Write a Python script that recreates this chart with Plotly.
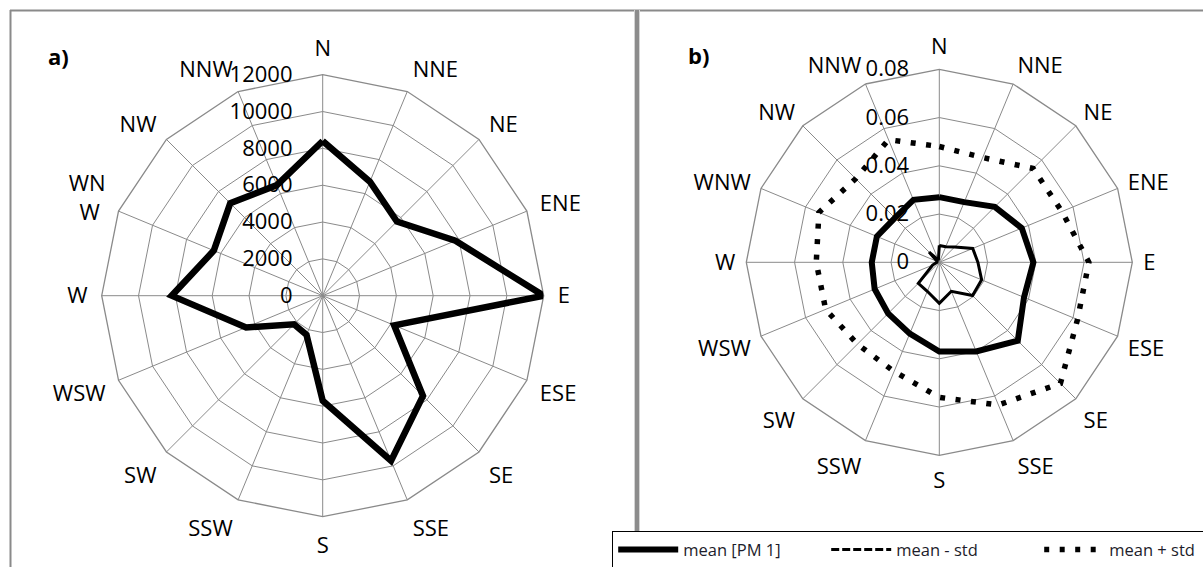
import plotly.graph_objects as go

# ---------------- data ----------------
directions = ["N", "NNE", "NE", "ENE", "E", "ESE", "SE", "SSE",
              "S", "SSW", "SW", "WSW", "W", "WNW", "NW", "NNW"]
labels_a = ["N", "NNE", "NE", "ENE", "E", "ESE", "SE", "SSE",
            "S", "SSW", "SW", "WSW", "W", "WN<br>W\u00a0", "NW", "NNW"]
labels_b = ["N", "NNE", "NE", "ENE", "E", "ESE", "SE", "SSE",
            "S", "SSW", "SW", "WSW", "W", "WNW", "NW", "NNW"]

counts_a = [8400, 6700, 5700, 7800, 12000, 4200, 7700, 9700,
            5700, 2300, 2200, 4500, 8200, 6400, 7100, 6500]

mean_pm1 = [0.027, 0.027, 0.0325, 0.037, 0.039, 0.038, 0.046, 0.040,
            0.037, 0.032, 0.030, 0.029, 0.028, 0.028, 0.026, 0.028]
mean_minus_std = [0.007, 0.007, 0.009, 0.015, 0.016, 0.019, 0.0195, 0.013,
                  0.017, 0.013, 0.0123, 0.003, 0.001, 0.001, 0.006, 0.001]
mean_plus_std = [0.048, 0.047, 0.055, 0.055, 0.062, 0.062, 0.071, 0.064,
                 0.056, 0.049, 0.048, 0.051, 0.051, 0.054, 0.049, 0.055]

ticks_a = [0, 2000, 4000, 6000, 8000, 10000, 12000]
ticks_b = [0, 0.02, 0.04, 0.06, 0.08]

legend_names = ["mean [PM 1]", "mean - std", "mean + std"]

# ---------------- styling ----------------
W, H = 1203, 567
GRID = "#8a8a8a"
FONT = "Open Sans"
TXT = dict(family=FONT, size=22, color="black")


def closed(v):
    return list(v) + list(v[:1])


theta = closed(directions)

fig = go.Figure()

fig.add_trace(go.Scatterpolar(r=closed(counts_a), theta=theta, mode="lines",
                              line=dict(color="black", width=6.5),
                              subplot="polar", showlegend=False))

fig.add_trace(go.Scatterpolar(r=closed(mean_pm1), theta=theta, mode="lines",
                              name=legend_names[0],
                              line=dict(color="black", width=6),
                              subplot="polar2", showlegend=True))
fig.add_trace(go.Scatterpolar(r=closed(mean_minus_std), theta=theta, mode="lines",
                              name=legend_names[1],
                              line=dict(color="black", width=3),
                              subplot="polar2", showlegend=False))
# legend entry for the dashed series
fig.add_trace(go.Scatterpolar(r=[None], theta=[directions[0]], mode="lines",
                              name=legend_names[1],
                              line=dict(color="black", width=3, dash="8px,3px"),
                              subplot="polar2", showlegend=True))
fig.add_trace(go.Scatterpolar(r=closed(mean_plus_std), theta=theta, mode="lines",
                              name=legend_names[2],
                              line=dict(color="black", width=5.5, dash="5px,10.5px"),
                              subplot="polar2", showlegend=True))


def polar(cx, cy, rad, rng, ticks, labels, pad, fmt):
    return dict(
        domain=dict(x=[(cx - rad) / W, (cx + rad) / W],
                    y=[(H - cy - rad) / H, (H - cy + rad) / H]),
        gridshape="linear",
        bgcolor="white",
        angularaxis=dict(type="category", categoryorder="array",
                         categoryarray=directions, direction="clockwise",
                         rotation=90, tickmode="array", tickvals=directions,
                         ticktext=labels, showline=True, linecolor=GRID,
                         linewidth=1.3, gridcolor=GRID, gridwidth=1.3,
                         ticks="outside", ticklen=pad,
                         tickcolor="rgba(0,0,0,0)",
                         tickfont=TXT, layer="below traces"),
        radialaxis=dict(range=rng, tickmode="array", tickvals=ticks,
                        angle=90, side="counterclockwise", tickangle=90,
                        showline=False, gridcolor=GRID, gridwidth=1.3,
                        ticks="outside", ticklen=22, tickcolor="rgba(0,0,0,0)",
                        tickfont=TXT, layer="below traces", tickformat=fmt,
                        exponentformat="none", separatethousands=False),
    )


fig.update_layout(
    width=W, height=H,
    margin=dict(l=0, r=0, t=0, b=0, autoexpand=False),
    paper_bgcolor="white", plot_bgcolor="white",
    polar=polar(322.7, 295.7, 221, [0, 12000], ticks_a, labels_a, 9, "d"),
    polar2=polar(939.3, 262.3, 193, [0, 0.08], ticks_b, labels_b, 6, ""),
    showlegend=True,
    legend=dict(orientation="h", x=611.7 / W, y=(H - 530.7) / H,
                xanchor="left", yanchor="top",
                bgcolor="white", bordercolor="black", borderwidth=1.5,
                font=dict(family=FONT, size=16.5, color="#1d1d2b"),
                itemwidth=60, entrywidth=138, entrywidthmode="pixels"),
)

# panel letters
fig.add_annotation(x=58 / W, y=1 - 56 / H, xref="paper", yref="paper",
                   xanchor="center", yanchor="middle",
                   text="<b>a)</b>", showarrow=False,
                   font=dict(family=FONT, size=22, color="black"))
fig.add_annotation(x=698 / W, y=1 - 55 / H, xref="paper", yref="paper",
                   xanchor="center", yanchor="middle",
                   text="<b>b)</b>", showarrow=False,
                   font=dict(family=FONT, size=22, color="black"))

# frame lines
fig.add_shape(type="line", xref="paper", yref="paper",
              x0=10 / W, x1=1.0, y0=1 - 10.5 / H, y1=1 - 10.5 / H,
              line=dict(color=GRID, width=2), layer="below")
fig.add_shape(type="line", xref="paper", yref="paper",
              x0=10.5 / W, x1=10.5 / W, y0=0, y1=1 - 10 / H,
              line=dict(color=GRID, width=2), layer="below")
fig.add_shape(type="line", xref="paper", yref="paper",
              x0=637 / W, x1=637 / W, y0=0, y1=1 - 10 / H,
              line=dict(color="#d4d4d4", width=6), layer="below")
fig.add_shape(type="line", xref="paper", yref="paper",
              x0=637 / W, x1=637 / W, y0=0, y1=1 - 10 / H,
              line=dict(color="#8c8c8c", width=4), layer="below")

fig.write_html("out.html")
